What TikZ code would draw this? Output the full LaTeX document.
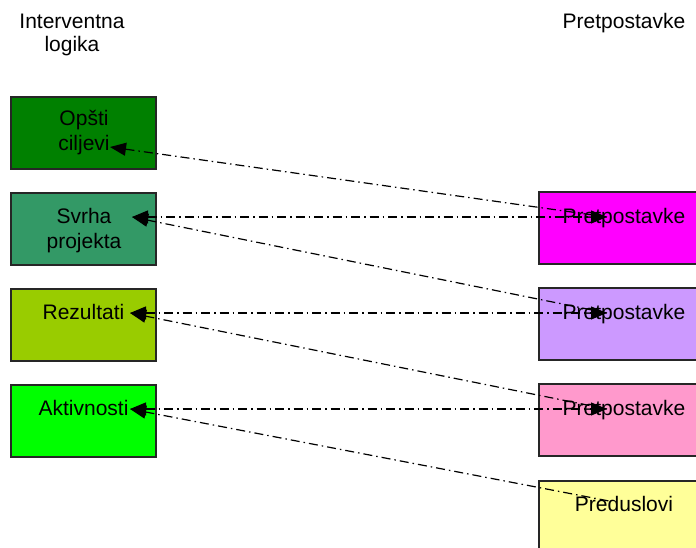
\documentclass[tikz,border=0pt]{standalone}
\usepackage{fontspec}
\setmainfont{Liberation Sans}
\usetikzlibrary{arrows.meta}
\definecolor{cGoal}{HTML}{008000}
\definecolor{cPurpose}{HTML}{339966}
\definecolor{cResult}{HTML}{99CC00}
\definecolor{cActivity}{HTML}{00FF00}
\definecolor{cAssumA}{HTML}{FF00FF}
\definecolor{cAssumB}{HTML}{CC99FF}
\definecolor{cAssumC}{HTML}{FF99CC}
\definecolor{cPrecond}{HTML}{FFFF99}
\tikzset{
  levelbox/.style={draw=black!85, line width=1.3pt, inner sep=0pt,
    minimum width=145pt, minimum height=72pt},
  assumbox/.style={draw=black!85, line width=1.3pt, inner sep=0pt,
    minimum width=170pt, minimum height=72pt},
  lbl/.style={inner sep=0pt, align=center, text=black},
  conn/.style={line width=1.2pt, dash pattern=on 9pt off 4pt on 1.5pt off 4pt},
  tri/.tip={Triangle[length=16pt,width=13pt]}
}
\begin{document}
\begin{tikzpicture}[x=1pt,y=-1pt,font=\fontsize{21}{24}\selectfont]
\useasboundingbox (0,0) rectangle (696,548);
\clip (0,0) rectangle (696,548);

% column headings
\node[lbl,anchor=base] (hdrL) at (72,29) {Interventna};
\node[lbl,anchor=base] (hdrL2) at (72,52) {logika};
\node[lbl,anchor=base] (hdrR) at (624,29) {Pretpostavke};

% intervention logic column
\node[levelbox,fill=cGoal]     (goal)     at (83.5,133) {};
\node[levelbox,fill=cPurpose]  (purpose)  at (83.5,229) {};
\node[levelbox,fill=cResult]   (result)   at (83.5,325) {};
\node[levelbox,fill=cActivity] (activity) at (83.5,421) {};

\node[lbl,anchor=base] (goalT)  at (84,126) {Opšti};
\node[lbl,anchor=base] (goalT2) at (84,151) {ciljevi};
\node[lbl,anchor=base] (purposeT)  at (84,223) {Svrha};
\node[lbl,anchor=base] (purposeT2) at (84,248) {projekta};
\node[lbl,anchor=base] (resultT)   at (83.5,319) {Rezultati};
\node[lbl,anchor=base] (activityT) at (83.5,415) {Aktivnosti};

% assumptions column
\node[assumbox,fill=cAssumA]   (assA) at (624,228) {};
\node[assumbox,fill=cAssumB]   (assB) at (624,324) {};
\node[assumbox,fill=cAssumC]   (assC) at (624,420) {};
\node[assumbox,fill=cPrecond]  (prec) at (624,517) {};

\node[lbl,anchor=base] (assAT) at (624,223) {Pretpostavke};
\node[lbl,anchor=base] (assBT) at (624,319) {Pretpostavke};
\node[lbl,anchor=base] (assCT) at (624,415) {Pretpostavke};
\node[lbl,anchor=base] (precT) at (624,511) {Preduslovi};

% connector end points
\coordinate (goalP)     at (110,147);
\coordinate (purposeP)  at (132,217);
\coordinate (resultP)   at (130,313);
\coordinate (activityP) at (130,409);
\coordinate (assAP) at (607,217);
\coordinate (assBP) at (607,313);
\coordinate (assCP) at (607,409);
\coordinate (precP) at (609,501);

% links between levels and assumptions
\draw[conn,tri-tri] (purposeP)  -- (assAP);
\draw[conn,tri-tri] (resultP)   -- (assBP);
\draw[conn,tri-tri] (activityP) -- (assCP);
\draw[conn,tri-]    (goalP)     -- (assAP);
\draw[conn,tri-]    (purposeP)  -- (assBP);
\draw[conn,tri-]    (resultP)   -- (assCP);
\draw[conn,tri-]    (activityP) -- (precP);
\end{tikzpicture}
\end{document}
